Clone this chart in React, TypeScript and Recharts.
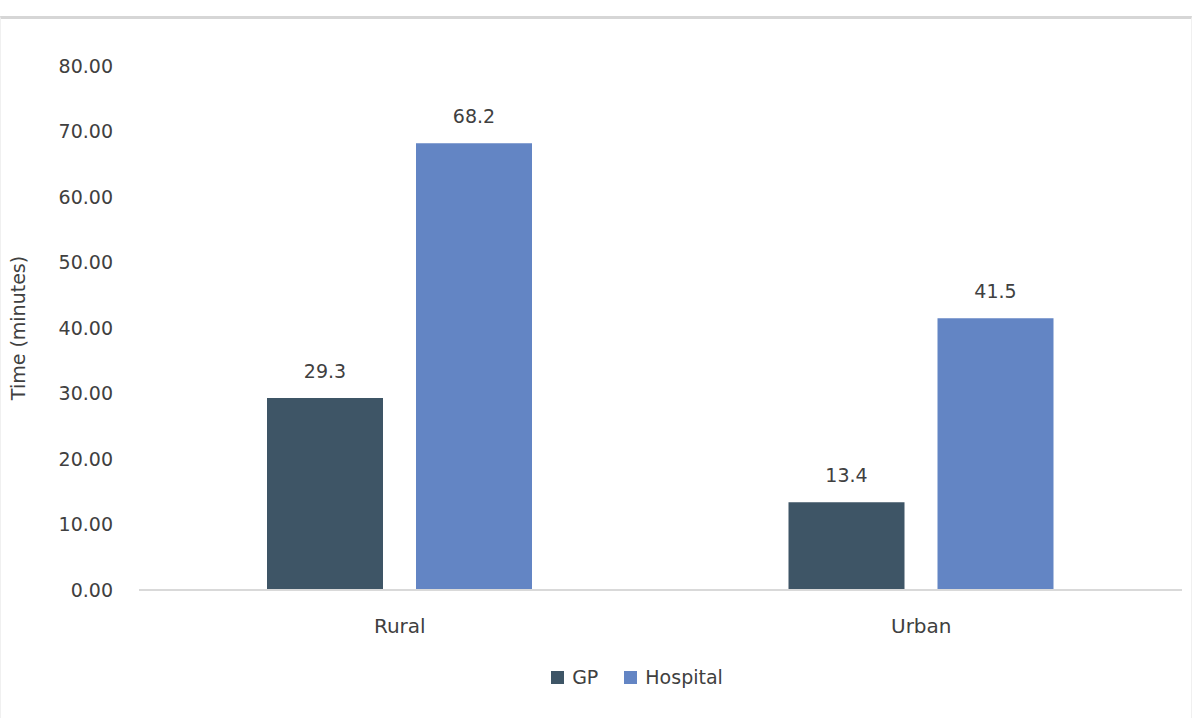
import { Bar, BarChart, LabelList, Legend, XAxis, YAxis } from 'recharts'

const areas = ['Rural', 'Urban']
const gpMinutes = [29.3, 13.4]
const hospitalMinutes = [68.2, 41.5]
const yTicks = [0, 10, 20, 30, 40, 50, 60, 70, 80]

const data = areas.map((area, i) => ({
  area,
  GP: gpMinutes[i],
  Hospital: hospitalMinutes[i],
}))

const font = '"DejaVu Sans", Verdana, sans-serif'
const textColor = '#404040'

const renderLegend = (props: any) => {
  const { payload } = props
  return (
    <div
      style={{
        display: 'flex',
        justifyContent: 'center',
        gap: 26,
        paddingLeft: 92,
        fontSize: 19,
        fontFamily: font,
        color: textColor,
      }}
    >
      {payload.map((entry: any) => (
        <span
          key={entry.value}
          style={{ display: 'flex', alignItems: 'center', gap: 8 }}
        >
          <span
            style={{
              display: 'inline-block',
              width: 13,
              height: 13,
              background: entry.color,
            }}
          />
          {entry.value}
        </span>
      ))}
    </div>
  )
}

export default function App() {
  return (
    <div
      style={{
        position: 'absolute',
        left: 0,
        top: 0,
        width: 1192,
        height: 718,
        background: '#fff',
        fontFamily: font,
      }}
    >
      <div
        style={{
          position: 'absolute',
          left: 0,
          top: 16,
          width: 1190,
          height: 699,
          borderTop: '3px solid #d6d6d6',
          borderLeft: '1px solid #f0f0f0',
          borderRight: '1px solid #f0f0f0',
          borderBottom: '1px solid #f0f0f0',
        }}
      />
      <div style={{ position: 'absolute', left: 0, top: 17 }}>
        <BarChart
          width={1192}
          height={700}
          data={data}
          margin={{ top: 49, right: 10, bottom: 0, left: 0 }}
          barSize={116}
          barGap={33}
        >
          <XAxis
            dataKey="area"
            axisLine={{ stroke: '#d9d9d9', strokeWidth: 2 }}
            tickLine={false}
            tickSize={0}
            tickMargin={29}
            height={87}
            tick={{ fill: textColor, fontSize: 20, fontFamily: font }}
          />
          <YAxis
            domain={[0, 80]}
            ticks={yTicks}
            interval={0}
            width={139}
            axisLine={false}
            tickLine={false}
            tickSize={0}
            tickMargin={26}
            tickFormatter={(v: number) => v.toFixed(2)}
            tick={{ fill: textColor, fontSize: 19, fontFamily: font }}
            label={{
              value: 'Time (minutes)',
              angle: -90,
              position: 'insideLeft',
              offset: 18,
              style: {
                textAnchor: 'middle',
                fill: textColor,
                fontSize: 19,
                fontFamily: font,
              },
            }}
          />
          <Legend
            verticalAlign="bottom"
            content={renderLegend}
            wrapperStyle={{ height: 40, bottom: 11 }}
          />
          <Bar dataKey="GP" fill="#3e5566" isAnimationActive={false}>
            <LabelList
              dataKey="GP"
              position="top"
              offset={20}
              fill={textColor}
              fontSize={19}
              fontFamily={font}
            />
          </Bar>
          <Bar dataKey="Hospital" fill="#6385c4" isAnimationActive={false}>
            <LabelList
              dataKey="Hospital"
              position="top"
              offset={20}
              fill={textColor}
              fontSize={19}
              fontFamily={font}
            />
          </Bar>
        </BarChart>
      </div>
    </div>
  )
}
